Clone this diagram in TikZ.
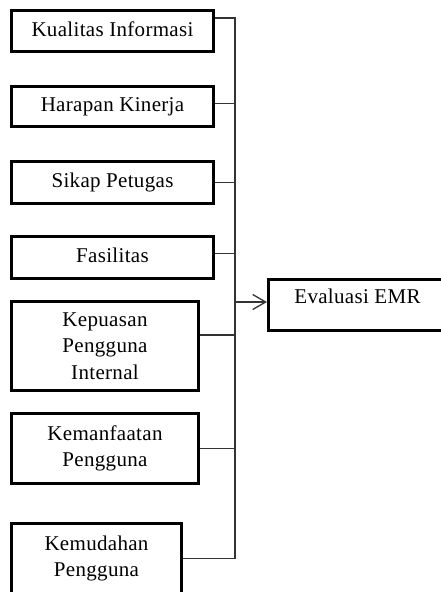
\documentclass[tikz,border=0pt]{standalone}
\usepackage{fontspec}
\setmainfont{Liberation Serif}[LetterSpace=1.5]
\usepackage{tikz}
\usetikzlibrary{arrows.meta}

\begin{document}
\begin{tikzpicture}[
  box/.style={draw, line width=3pt, align=center, inner sep=0pt,
              font=\fontsize{21}{26.5}\selectfont},
  onebox/.style={box, minimum width=202pt, text height=14pt, text depth=4pt},
  bus/.style={line width=1.3pt, draw=black!80},
  arr/.style={bus, -{Straight Barb[length=13pt, width=15pt, line width=1.3pt]}}]
  \useasboundingbox (0,0) rectangle (441pt,-592pt);
  % left column of factors, bus at x = 235pt, target on the right
  \node[onebox, minimum height=41pt] (kualitas)  at (112.5pt,-31pt)    {Kualitas Informasi};
  \node[onebox, minimum height=40pt] (harapan)   at (112.5pt,-106.5pt) {Harapan Kinerja};
  \node[onebox, minimum height=42pt] (sikap)     at (112.5pt,-182.5pt) {Sikap Petugas};
  \node[onebox, minimum height=42pt] (fasilitas) at (112.5pt,-257.5pt) {Fasilitas};
  \node[box, minimum width=187pt, minimum height=89pt] (kepuasan)    at (105pt,-346pt)   {Kepuasan\\ Pengguna\\ Internal};
  \node[box, minimum width=187pt, minimum height=70pt] (kemanfaatan) at (105pt,-448.5pt) {Kemanfaatan\\ Pengguna};
  \node[box, minimum width=170pt, minimum height=70pt] (kemudahan)   at (96.5pt,-558.5pt) {Kemudahan\\ Pengguna};
  \node[box, minimum width=178pt, minimum height=51pt, text height=17pt, text depth=21pt] (emr) at (357.5pt,-305pt) {Evaluasi EMR};
  \coordinate (bustop) at (235pt,-18pt);
  \coordinate (busbot) at (kemudahan.east -| bustop);
  \draw[bus] ([yshift=13pt]kualitas.east) -- (bustop) -- (busbot) -- (kemudahan.east);
  \draw[bus] ([yshift=3pt]harapan.east) -- ([yshift=3pt]harapan.east -| bustop);
  \draw[bus] (sikap.east) -- (sikap.east -| bustop);
  \draw[bus] ([yshift=4pt]fasilitas.east) -- ([yshift=4pt]fasilitas.east -| bustop);
  \draw[bus] ([yshift=11pt]kepuasan.east) -- ([yshift=11pt]kepuasan.east -| bustop);
  \draw[bus] (kemanfaatan.east) -- (kemanfaatan.east -| bustop);
  \draw[arr] ([yshift=3pt]emr.west -| bustop) -- ([yshift=3pt]emr.west);
\end{tikzpicture}
\end{document}
